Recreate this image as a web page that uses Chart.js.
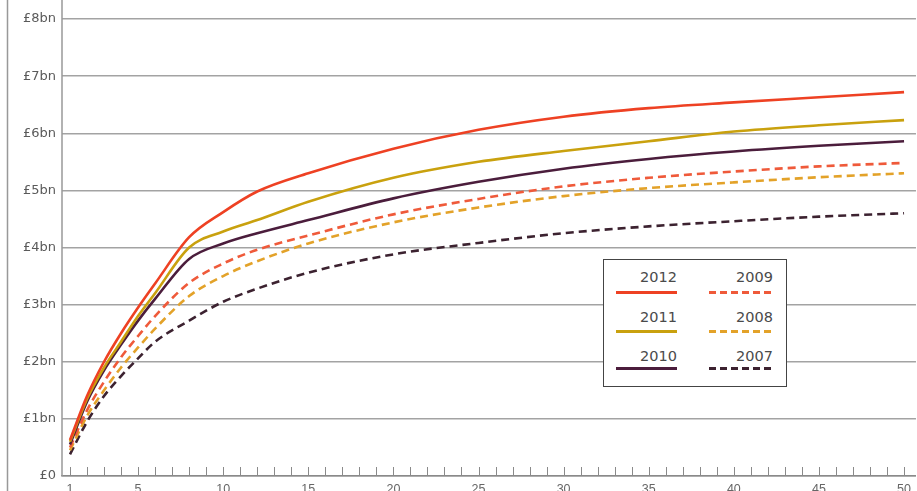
<!DOCTYPE html>
<html>
<head>
<meta charset="utf-8">
<script src="https://cdn.jsdelivr.net/npm/chart.js@4.4.1/dist/chart.umd.min.js"></script>
<style>
  html, body { margin: 0; padding: 0; background: #fff; overflow: hidden; }
  #wrap { position: relative; width: 917px; height: 503px; }
  #legendBox { position: absolute; left: 603px; top: 259px; width: 182px; height: 126px;
               border: 1.5px solid #444; background: #fff; }
  .lg-text { position: absolute; text-align: right; font: 14.5px "DejaVu Sans", sans-serif; color: #4a4a4a; }
  .lg-line { position: absolute; height: 3px; }
</style>
</head>
<body>
<div id="wrap">
  <canvas id="DecayChart"></canvas>
  <div id="legendBox"></div>
</div>
<script>
// x positions of the read-off points
const xPoints = [1, 2, 3, 4, 5, 6, 8, 10, 12, 15, 20, 25, 30, 35, 40, 45, 50];

// cumulative value, £bn
const values2012 = [0.63, 1.40, 2.00, 2.50, 2.95, 3.37, 4.18, 4.62, 4.98, 5.30, 5.73, 6.06, 6.29, 6.44, 6.54, 6.63, 6.72];
const values2011 = [0.60, 1.35, 1.90, 2.35, 2.80, 3.20, 4.00, 4.28, 4.48, 4.80, 5.22, 5.50, 5.69, 5.86, 6.03, 6.14, 6.23];
const values2010 = [0.55, 1.30, 1.85, 2.30, 2.72, 3.10, 3.80, 4.07, 4.25, 4.48, 4.86, 5.15, 5.38, 5.55, 5.68, 5.78, 5.86];
const values2009 = [0.50, 1.15, 1.65, 2.08, 2.45, 2.80, 3.38, 3.72, 3.96, 4.21, 4.58, 4.85, 5.07, 5.22, 5.33, 5.42, 5.48];
const values2008 = [0.45, 1.05, 1.50, 1.90, 2.25, 2.58, 3.15, 3.50, 3.76, 4.07, 4.44, 4.70, 4.90, 5.04, 5.14, 5.23, 5.30];
const values2007 = [0.38, 0.95, 1.40, 1.75, 2.06, 2.35, 2.72, 3.05, 3.28, 3.56, 3.88, 4.08, 4.25, 4.37, 4.46, 4.54, 4.60];

const xTickLabels = [1, 5, 10, 15, 20, 25, 30, 35, 40, 45, 50];
const yTickLabels = ['£0', '£1bn', '£2bn', '£3bn', '£4bn', '£5bn', '£6bn', '£7bn', '£8bn'];

// series styles
const series = [
    { label: '2012', data: values2012, color: '#ee4123', dashed: false },
    { label: '2011', data: values2011, color: '#c9a10e', dashed: false },
    { label: '2010', data: values2010, color: '#4b1d3c', dashed: false },
    { label: '2009', data: values2009, color: '#ef5a3a', dashed: true },
    { label: '2008', data: values2008, color: '#e3a229', dashed: true },
    { label: '2007', data: values2007, color: '#3c2230', dashed: true }
];

const yFont = { family: '"DejaVu Sans", sans-serif', size: 13 };
const xFont = { family: '"Liberation Sans", Arial, sans-serif', size: 12.5 };

// small upward ticks on the x axis plus the page edge line
const decorations = {
    id: 'decorations',
    afterDraw(chart) {
        const ctx = chart.ctx;
        const area = chart.chartArea;
        const x = chart.scales.x;
        ctx.save();
        ctx.strokeStyle = '#8a8a8a';
        ctx.lineWidth = 1;
        for (let i = 1; i <= 50; i++) {
            const px = Math.round(x.getPixelForValue(i)) + 0.5;
            ctx.beginPath();
            ctx.moveTo(px, area.bottom);
            ctx.lineTo(px, area.bottom - 9);
            ctx.stroke();
        }
        ctx.strokeStyle = '#999';
        ctx.lineWidth = 1.5;
        ctx.beginPath();
        ctx.moveTo(area.left, 0);
        ctx.lineTo(area.left, area.bottom);
        ctx.moveTo(7.5, 0);
        ctx.lineTo(7.5, chart.height);
        ctx.stroke();
        ctx.restore();
    }
};

const ctx = document.getElementById('DecayChart').getContext('2d');
new Chart(ctx, {
    type: 'line',
    data: {
        datasets: series.map(s => ({
            label: s.label,
            data: xPoints.map((xv, i) => ({ x: xv, y: s.data[i] })),
            borderColor: s.color,
            borderWidth: 2.6,
            borderDash: s.dashed ? [8, 5] : [],
            pointRadius: 0,
            cubicInterpolationMode: 'monotone',
            fill: false
        }))
    },
    options: {
        responsive: true,
        maintainAspectRatio: false,
        animation: false,
        layout: { padding: { top: 19, left: 0, right: 0, bottom: 0 } },
        plugins: { legend: { display: false }, tooltip: { enabled: false } },
        scales: {
            x: {
                type: 'linear',
                min: 0.53,
                max: 50.7,
                afterBuildTicks: s => { s.ticks = xTickLabels.map(v => ({ value: v })); },
                grid: { display: false, drawTicks: false },
                border: { display: true, color: '#8a8a8a', width: 1.5 },
                ticks: { font: xFont, color: '#666', padding: 6, maxRotation: 0, autoSkip: false }
            },
            y: {
                min: 0,
                max: 8,
                afterFit: s => { s.width = 62; },
                ticks: {
                    stepSize: 1,
                    font: yFont,
                    color: '#5a5a5a',
                    padding: 6,
                    callback: v => yTickLabels[v]
                },
                grid: { color: '#a3a3a3', lineWidth: 1.5, drawTicks: false },
                border: { display: false }
            }
        }
    },
    plugins: [decorations]
});

// legend: two columns, label above line
const legendSlots = [
    { s: 0, left: 12, w: 61, textTop: 9, lineTop: 31 },
    { s: 3, left: 105, w: 64, textTop: 9, lineTop: 31 },
    { s: 1, left: 12, w: 61, textTop: 49, lineTop: 70 },
    { s: 4, left: 105, w: 64, textTop: 49, lineTop: 70 },
    { s: 2, left: 12, w: 61, textTop: 88, lineTop: 107 },
    { s: 5, left: 105, w: 64, textTop: 88, lineTop: 107 }
];
const box = document.getElementById('legendBox');
legendSlots.forEach(slot => {
    const s = series[slot.s];
    const t = document.createElement('div');
    t.className = 'lg-text';
    t.style.left = slot.left + 'px';
    t.style.width = slot.w + 'px';
    t.style.top = slot.textTop + 'px';
    t.textContent = s.label;
    box.appendChild(t);
    const l = document.createElement('div');
    l.className = 'lg-line';
    l.style.left = slot.left + 'px';
    l.style.width = slot.w + 'px';
    l.style.top = slot.lineTop + 'px';
    l.style.background = s.dashed
        ? `repeating-linear-gradient(90deg, ${s.color} 0 7px, transparent 7px 11px)`
        : s.color;
    box.appendChild(l);
});
</script>
</body>
</html>
